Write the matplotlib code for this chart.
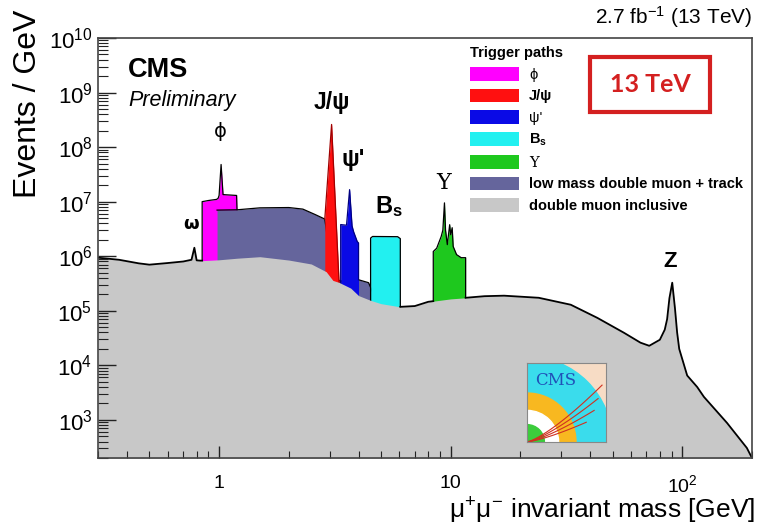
import numpy as np
import matplotlib.pyplot as plt
from matplotlib.patches import Patch, Rectangle, Wedge
from matplotlib.ticker import FixedLocator, FixedFormatter, LogLocator, NullFormatter, LogFormatterMathtext

plt.rcParams['font.family'] = ['Liberation Sans', 'DejaVu Sans']
plt.rcParams['mathtext.fontset'] = 'custom'
plt.rcParams['mathtext.rm'] = 'Liberation Sans'
plt.rcParams['mathtext.it'] = 'Liberation Sans:italic'
plt.rcParams['mathtext.bf'] = 'Liberation Sans:bold'

plot_fname = "out.png"

# double muon inclusive (grey), mass in GeV, events / GeV
incl_mass = [0.30, 0.37, 0.45, 0.50, 0.60, 0.70, 0.76, 0.782, 0.80, 0.83, 0.845, 0.90, 1.0, 1.2,
             1.5, 2.0, 2.5, 2.9, 3.1, 3.3, 3.7, 4.0, 4.51, 5.0, 6.06, 7.0, 8.0, 8.41, 10.0, 11.6,
             14.0, 17.0, 24.0, 33.0, 43.0, 56.0, 66.0, 72.0, 80.0, 84.0, 86.0, 88.0, 90.5, 93.0,
             95.0, 97.0, 105.0, 116.0, 124.0, 156.0, 190.0, 200.0]
incl_evts = [9.4e5, 8.6e5, 7.4e5, 7.0e5, 7.5e5, 8.0e5, 8.6e5, 1.43e6, 8.4e5, 8.3e5, 8.3e5, 8.4e5, 8.6e5, 9.2e5,
             9.8e5, 8.5e5, 7.2e5, 5.2e5, 3.6e5, 3.3e5, 2.6e5, 1.9e5, 1.55e5, 1.35e5, 1.18e5, 1.22e5, 1.46e5, 1.5e5, 1.65e5, 1.73e5,
             1.85e5, 1.89e5, 1.73e5, 1.29e5, 7.4e4, 3.95e4, 2.6e4, 2.28e4, 2.94e4, 4.5e4, 7.0e4, 1.7e5, 3.27e5, 1.1e5,
             4.0e4, 2.0e4, 6.5e3, 4.0e3, 2.64e3, 880, 306, 200]

# low mass double muon + track
lowm_mass = [0.98, 1.2, 1.5, 2.0, 2.3, 2.6, 2.86, 3.1, 3.35, 4.0, 4.42, 4.6, 4.8]
lowm_evts = [7.0e6, 7.1e6, 7.7e6, 7.8e6, 7.3e6, 5.8e6, 4.8e6, 4.0e5, 3.5e5, 3.7e5, 3.27e5, 2.2e5, 1.4e5]

# phi
phi_mass = [0.845, 0.845, 0.90, 0.975, 0.99, 1.0, 1.02, 1.04, 1.06, 1.19, 1.195]
phi_evts = [8.3e5, 1.0e7, 1.05e7, 1.1e7, 1.15e7, 1.3e7, 4.8e7, 1.35e7, 1.34e7, 1.3e7, 7.1e6]

# J/psi
jpsi_mass = [2.86, 3.06, 3.30]
jpsi_evts = [4.8e6, 2.6e8, 3.0e5]

# psi'
psi2_mass = [3.35, 3.35, 3.55, 3.66, 3.75, 3.81, 3.95, 4.0, 4.0]
psi2_evts = [2.6e5, 3.8e6, 3.7e6, 1.66e7, 3.6e6, 2.8e6, 1.85e6, 1.75e6, 3.7e5]

# Bs
bs_mass = [4.51, 4.51, 4.6, 5.9, 6.06, 6.06]
bs_evts = [1.55e5, 2.15e6, 2.3e6, 2.28e6, 2.1e6, 1.18e5]

# Upsilon
ups_mass = [8.41, 8.41, 8.7, 9.1, 9.25, 9.40, 9.5, 9.67, 9.9, 10.0, 10.15, 10.25, 10.6, 11.1, 11.6, 11.6]
ups_evts = [1.5e5, 1.22e6, 1.4e6, 2.3e6, 3.0e6, 9.5e6, 3.0e6, 1.63e6, 3.78e6, 2.48e6, 3.33e6, 1.51e6, 1.07e6, 9.4e5, 9.4e5, 1.73e5]

xtick_vals = [1, 10, 100]
xtick_labels = ["1", "10", "$10^{2}$"]

c_incl = '#c8c8c8'
c_lowm = '#65659c'

fig = plt.figure(figsize=(7.57, 5.24), dpi=100)
ax = fig.add_axes([98 / 757, 1 - 458 / 524, 654 / 757, 420 / 524])
ax.set_xscale('log')
ax.set_yscale('log')

floor = 1.0
# coloured trigger paths, each filled down and later covered by the inclusive grey
ax.fill_between(phi_mass, phi_evts, floor, color='#ff00ff', lw=0, zorder=2)
ax.plot(phi_mass, phi_evts, color='k', lw=0.9, zorder=2.1)
ax.fill_between(lowm_mass, lowm_evts, floor, color=c_lowm, lw=0, zorder=3)
ax.plot(lowm_mass, lowm_evts, color='k', lw=0.9, zorder=3.1)
ax.fill_between(jpsi_mass, jpsi_evts, floor, color='#ff1010', lw=0, zorder=4)
ax.plot(jpsi_mass, jpsi_evts, color='#a00000', lw=0.9, zorder=4.1)
ax.fill_between(psi2_mass, psi2_evts, floor, color='#0a0ae6', lw=0, zorder=4)
ax.plot(psi2_mass, psi2_evts, color='#000080', lw=0.9, zorder=4.1)
ax.fill_between(bs_mass, bs_evts, floor, color='#22f0f0', lw=0, zorder=4)
ax.plot(bs_mass, bs_evts, color='k', lw=0.9, zorder=4.1)
ax.fill_between(ups_mass, ups_evts, floor, color='#1ec81e', lw=0, zorder=4)
ax.plot(ups_mass, ups_evts, color='k', lw=0.9, zorder=4.1)

ax.fill_between(incl_mass, incl_evts, floor, color=c_incl, lw=0, zorder=5)
# black outline only where the grey is the top of the stack
m = np.array(incl_mass)
line = np.array(incl_evts, dtype=float)
covered = [(min(phi_mass), max(bs_mass)), (min(ups_mass), max(ups_mass))]
for lo, hi in covered:
    line[(m > lo) & (m < hi)] = np.nan
ax.plot(m, line, color='k', lw=1.3, zorder=5.1)

ax.set_xlim(0.3, 200)
ax.set_ylim(200, 1e10)

ax.xaxis.set_major_locator(FixedLocator(xtick_vals))
ax.xaxis.set_major_formatter(FixedFormatter(xtick_labels))
ax.xaxis.set_minor_locator(LogLocator(base=10, subs=range(2, 10), numticks=20))
ax.xaxis.set_minor_formatter(NullFormatter())
ax.yaxis.set_major_locator(LogLocator(base=10, numticks=20))
ax.yaxis.set_major_formatter(LogFormatterMathtext())
ax.yaxis.set_minor_locator(LogLocator(base=10, subs=range(2, 10), numticks=20))
ax.yaxis.set_minor_formatter(NullFormatter())

ax.tick_params(which='both', direction='in', top=False, right=False, color='#222222')
ax.tick_params(axis='y', which='major', length=13, width=1.0, labelsize=16, pad=4)
ax.tick_params(axis='y', which='minor', length=7, width=0.8)
ax.tick_params(axis='x', which='major', length=9, width=1.0, labelsize=14, pad=12)
ax.tick_params(axis='x', which='minor', length=5, width=0.8)
ax.xaxis.set_zorder(11)
ax.yaxis.set_zorder(11)
for sp in ax.spines.values():
    sp.set_color('#444444')
    sp.set_linewidth(1.2)
    sp.set_zorder(12)

# resonance labels
ax.text(0.758, 3.9e6, "ω", fontsize=13, fontweight='bold', ha='center', va='center', family='DejaVu Sans')
ax.text(1.01, 1.9e8, "ϕ", fontsize=14, ha='center', va='center', family='DejaVu Sans')
ax.text(3.06, 6.6e8, "J/ψ", fontsize=16.5, fontweight='bold', ha='center', va='center')
ax.text(3.81, 5.9e7, "ψ'", fontsize=17, fontweight='bold', ha='center', va='center')
ax.text(5.39, 8.1e6, r"B$_{\mathbf{s}}$", fontsize=17, fontweight='bold', ha='center', va='center')
ax.text(9.3, 2.2e7, "Υ", fontsize=16, ha='center', va='center', family='DejaVu Serif')
ax.text(88.7, 7.9e5, "Z", fontsize=16, fontweight='bold', ha='center', va='center')

ax.text(0.046, 0.924, "CMS", transform=ax.transAxes, fontsize=19.5, fontweight='bold', va='center')
ax.text(0.046, 0.852, "Preliminary", transform=ax.transAxes, fontsize=15.5, style='italic', va='center')

# legend
handles = [Patch(facecolor='#ff00ff'), Patch(facecolor='#ff1010'), Patch(facecolor='#0a0ae6'),
           Patch(facecolor='#22f0f0'), Patch(facecolor='#1ec81e'), Patch(facecolor=c_lowm),
           Patch(facecolor=c_incl)]
labels = ["ϕ", "J/ψ", "ψ'", r"B$_{\mathbf{s}}$", "Υ", "low mass double muon + track", "double muon inclusive"]
leg = ax.legend(handles, labels, loc='upper left', bbox_to_anchor=(460 / 757, 1 - 36 / 524),
                bbox_transform=fig.transFigure, frameon=False, title="Trigger paths",
                prop={'size': 10.5, 'weight': 'bold'}, title_fontproperties={'size': 10.5, 'weight': 'bold'},
                handlelength=3.35, handleheight=1.05, handletextpad=0.68, labelspacing=0.47,
                borderpad=0.2, alignment='left')
leg.set_zorder(20)
leg.get_texts()[0].set_fontweight('normal')
leg.get_texts()[2].set_fontweight('normal')
leg.get_texts()[4].set_fontweight('normal')
leg.get_texts()[4].set_fontfamily('DejaVu Serif')

# 13 TeV box
fig.add_artist(Rectangle((590 / 757, 1 - 112 / 524), 120 / 757, 55 / 524, transform=fig.transFigure,
                         fill=False, edgecolor='#d42020', lw=3))
fig.text(650 / 757, 1 - 85 / 524, "13 TeV", color='#d42020', fontsize=18, fontweight='bold',
         ha='center', va='center', family='Lato')

# CMS logo inset
lax = fig.add_axes([527 / 757, 1 - 442 / 524, 79 / 757, 79 / 524])
lax.set_xlim(0, 1)
lax.set_ylim(0, 1)
lax.set_facecolor('#f7dcc5')
lax.add_patch(Wedge((0, 0), 1.08, 0, 90, color='#3adcec'))
lax.add_patch(Wedge((0, 0), 0.62, 0, 90, width=0.22, color='#f8b820'))
lax.add_patch(Wedge((0, 0), 0.40, 0, 90, width=0.18, color='white'))
lax.add_patch(Wedge((0, 0), 0.22, 0, 90, color='#3ccc3c'))
for ex, ey in [(0.95, 0.72), (0.9, 0.55), (0.85, 0.4), (0.75, 0.25)]:
    tt = np.linspace(0, 1, 20)
    lax.plot(ex * tt, ey * tt ** 1.3, color='#d03020', lw=0.8)
lax.text(0.1, 0.78, "CMS", color='#2050b8', fontsize=12, family='DejaVu Serif', va='center')
lax.set_xticks([])
lax.set_yticks([])
for sp in lax.spines.values():
    sp.set_color('#888888')
    sp.set_linewidth(0.8)

fig.text(752 / 757, 1 - 17 / 524, "2.7 fb$^{-1}$ (13 TeV)", fontsize=15, ha='right', va='center')
fig.text(28 / 757, 1 - 10 / 524, "Events / GeV", rotation=90, fontsize=23, ha='center', va='top')
fig.text(755 / 757, 1 - 518 / 524, "μ$^{+}$μ$^{-}$ invariant mass [GeV]", fontsize=19, ha='right', va='baseline')

plt.savefig(plot_fname, dpi=100)
